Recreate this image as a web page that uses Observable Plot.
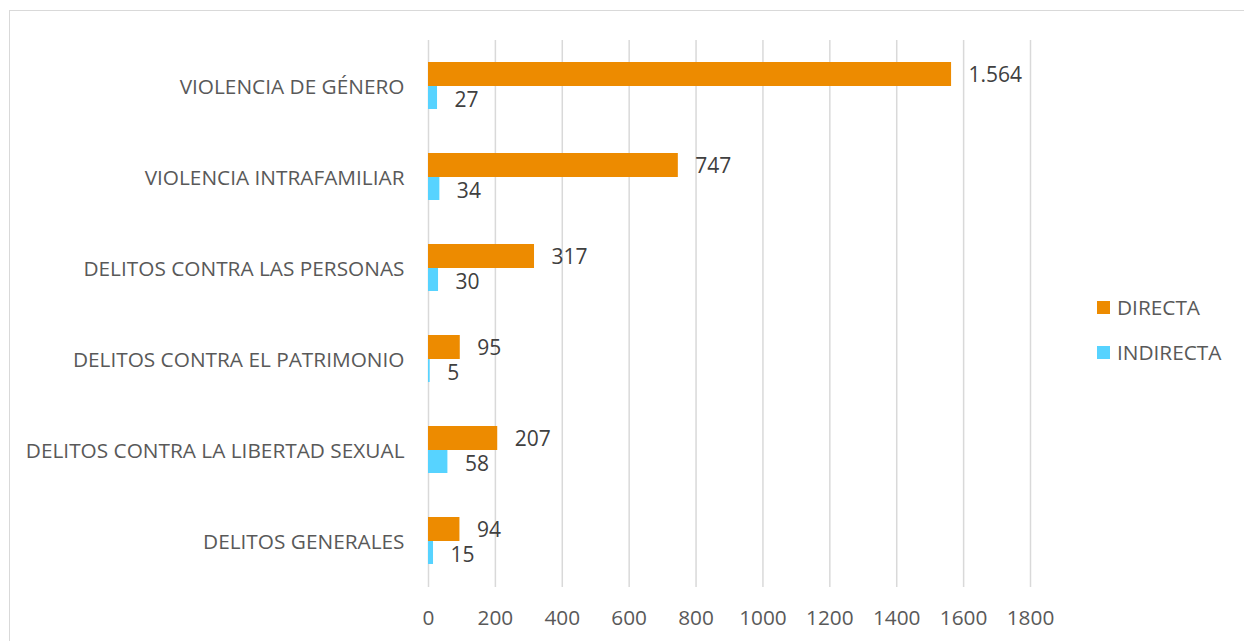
<!DOCTYPE html>
<html><head><meta charset="utf-8">
<script src="https://cdn.jsdelivr.net/npm/d3@7"></script>
<script src="https://cdn.jsdelivr.net/npm/@observablehq/plot@0.6"></script>
<style>
html,body{margin:0;padding:0;background:#fff;}
#wrap{position:relative;width:1244px;height:641px;overflow:hidden;font-family:"Open Sans",sans-serif;}
#frame{position:absolute;left:9px;top:10px;width:1400px;height:800px;border:1px solid #d9d9d9;box-sizing:border-box;}
#chart{position:absolute;left:0;top:0;}
#legend{position:absolute;left:1097px;top:295px;font-size:20.8px;color:#595959;}
.li{display:flex;align-items:center;height:24px;margin-bottom:21px;}
.sw{width:13px;height:13px;margin-right:7px;}
</style></head>
<body><div id="wrap"><div id="frame"></div><div id="chart"></div>
<div id="legend"></div></div>
<script>
const categories = ["VIOLENCIA DE GÉNERO","VIOLENCIA INTRAFAMILIAR","DELITOS CONTRA LAS PERSONAS","DELITOS CONTRA EL PATRIMONIO","DELITOS CONTRA LA LIBERTAD SEXUAL","DELITOS GENERALES"];
const directa = [1564, 747, 317, 95, 207, 94];
const indirecta = [27, 34, 30, 5, 58, 15];
const seriesNames = ["DIRECTA","INDIRECTA"];
const seriesColors = ["#ED8B00","#57D3FF"];
const xTicks = [0,200,400,600,800,1000,1200,1400,1600,1800];

const dRows = categories.map((c,i)=>({cat:c, v:directa[i]}));
const iRows = categories.map((c,i)=>({cat:c, v:indirecta[i]}));
const loc = d3.formatLocale({decimal:",", thousands:".", grouping:[3], currency:["",""]});
const fmt = loc.format(",d");

const plot = Plot.plot({
  width:1244, height:641,
  marginLeft:428, marginRight:214, marginTop:40, marginBottom:54,
  style:{fontFamily:"'Open Sans', sans-serif", fontSize:"20.8px", color:"#595959", background:"transparent"},
  x:{domain:[0,1800], ticks:xTicks, label:null},
  y:{domain:categories, padding:0, label:null},
  marks:[
    Plot.gridX(xTicks,{stroke:"#d9d9d9", strokeOpacity:1, strokeWidth:1.5}),
    Plot.axisX({ticks:xTicks, tickSize:0, tickPadding:23, tickFormat:d=>String(d), fill:"#595959", fontSize:20.8, label:null}),
    Plot.axisY({tickSize:0, tickPadding:24, fill:"#595959", fontSize:20.8, label:null}),
    Plot.barX(dRows,{x:"v", y:"cat", fill:seriesColors[0], insetTop:21, insetBottom:46}),
    Plot.barX(iRows,{x:"v", y:"cat", fill:seriesColors[1], insetTop:45, insetBottom:23}),
    Plot.text(dRows,{x:"v", y:"cat", text:d=>fmt(d.v), dx:17, dy:-12, textAnchor:"start", fill:"#404040", fontSize:21}),
    Plot.text(iRows,{x:"v", y:"cat", text:d=>fmt(d.v), dx:17, dy:13, textAnchor:"start", fill:"#404040", fontSize:21})
  ]
});
document.getElementById("chart").appendChild(plot);

const leg = document.getElementById("legend");
seriesNames.forEach((n,i)=>{
  const row = document.createElement("div"); row.className="li";
  const sw = document.createElement("div"); sw.className="sw"; sw.style.background=seriesColors[i];
  const t = document.createElement("span"); t.textContent=n;
  row.appendChild(sw); row.appendChild(t); leg.appendChild(row);
});
</script></body></html>
